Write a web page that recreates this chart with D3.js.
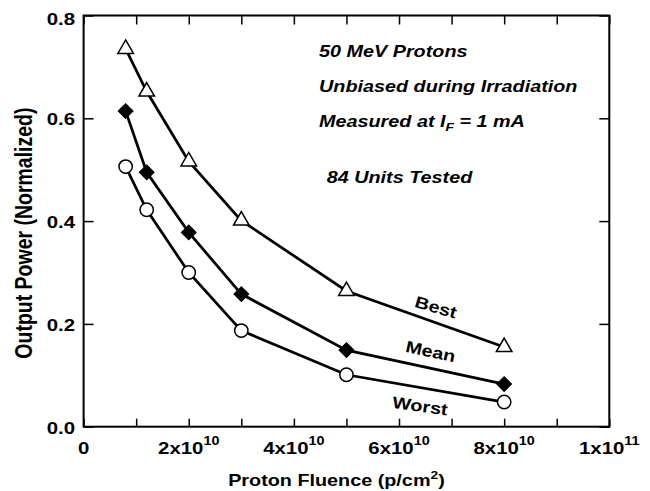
<!DOCTYPE html>
<html>
<head>
<meta charset="utf-8">
<script src="https://cdn.jsdelivr.net/npm/d3@7"></script>
<style>
  body { margin: 0; background: #fff; }
  svg { display: block; }
  text { font-family: "Liberation Sans", Arial, sans-serif; font-weight: bold; fill: #000; }
</style>
</head>
<body>
<svg id="chart" width="650" height="491"></svg>
<script>
// ---- data ----
const fluence = [0.8e10, 1.2e10, 2e10, 3e10, 5e10, 8e10];
const best    = [0.735, 0.652, 0.516, 0.401, 0.264, 0.155];
const mean    = [0.614, 0.495, 0.378, 0.258, 0.149, 0.083];
const worst   = [0.506, 0.422, 0.300, 0.187, 0.101, 0.048];
const seriesNames = ["Best", "Mean", "Worst"];
const yTickValues = [0, 0.2, 0.4, 0.6, 0.8];
const xMinorTicks = [0, 1e10, 2e10, 3e10, 4e10, 5e10, 6e10, 7e10, 8e10, 9e10, 1e11];
const xLabelValues = [0, 2e10, 4e10, 6e10, 8e10, 1e11];
const xLabelMantissa = ["0", "2x10", "4x10", "6x10", "8x10", "1x10"];
const xLabelExponent = ["", "10", "10", "10", "10", "11"];
const notes = ["50 MeV Protons", "Unbiased during Irradiation", "Measured at I|F| = 1 mA", "84 Units Tested"];

// ---- layout ----
const svg = d3.select("#chart");
const L = 83.6, R = 609.3, T = 15.5, B = 426.7;
const SX = 1.2; // horizontal stretch of the original typography
const x = d3.scaleLinear().domain([0, 1e11]).range([L, R]);
const y = d3.scaleLinear().domain([0, 0.8]).range([B, T]);

// axes (ticks pointing inward)
const tickStyle = g => { g.select(".domain").remove(); g.selectAll("line").attr("stroke", "#000").attr("stroke-width", 1.5); g.selectAll("text").remove(); };
svg.append("g").attr("transform", `translate(0,${B})`)
  .call(d3.axisBottom(x).tickValues(xMinorTicks).tickSizeInner(-8).tickSizeOuter(0)).call(tickStyle);
svg.append("g").attr("transform", `translate(0,${T})`)
  .call(d3.axisTop(x).tickValues(xMinorTicks).tickSizeInner(-9).tickSizeOuter(0)).call(tickStyle);
svg.append("g").attr("transform", `translate(${L},0)`)
  .call(d3.axisLeft(y).tickValues(yTickValues).tickSizeInner(-10).tickSizeOuter(0)).call(tickStyle);
svg.append("g").attr("transform", `translate(${R},0)`)
  .call(d3.axisRight(y).tickValues(yTickValues).tickSizeInner(-10).tickSizeOuter(0)).call(tickStyle);

// frame
svg.append("rect").attr("x", L).attr("y", T).attr("width", R - L).attr("height", B - T)
  .attr("fill", "none").attr("stroke", "#000").attr("stroke-width", 2);

// y tick labels
svg.append("g").selectAll("text").data(yTickValues).join("text")
  .attr("transform", d => `translate(${L - 8.5},${y(d) + (d === 0.8 ? 3.5 : 1)}) scale(${SX},1)`)
  .attr("text-anchor", "end").attr("dominant-baseline", "central")
  .attr("font-size", 17).text(d => d.toFixed(1));

// x tick labels with superscripts
const xl = svg.append("g").selectAll("text").data(xLabelValues).join("text")
  .attr("transform", d => `translate(${x(d)},453.5) scale(${SX},1)`)
  .attr("text-anchor", "middle").attr("font-size", 17);
xl.append("tspan").text((d, i) => xLabelMantissa[i]);
xl.append("tspan").attr("dy", -9).attr("font-size", 12).text((d, i) => xLabelExponent[i]);

// axis titles
const xt = svg.append("text").attr("transform", `translate(${(L + R) / 2 - 10},486) scale(${SX},1)`)
  .attr("text-anchor", "middle").attr("font-size", 16.5);
xt.append("tspan").text("Proton Fluence (p/cm");
xt.append("tspan").attr("dy", -7).attr("font-size", 11.5).text("2");
xt.append("tspan").attr("dy", 7).text(")");

svg.append("text").attr("transform", `translate(32,${(T + B) / 2 + 12}) rotate(-90) scale(1,${SX})`)
  .attr("text-anchor", "middle").attr("font-size", 19.5).text("Output Power (Normalized)");

// series lines and markers
const seriesData = [best, mean, worst].map((vals, k) => ({ name: seriesNames[k], pts: fluence.map((f, i) => [f, vals[i]]) }));
const line = d3.line().x(d => x(d[0])).y(d => y(d[1]));
svg.append("g").selectAll("path").data(seriesData).join("path")
  .attr("d", d => line(d.pts)).attr("fill", "none").attr("stroke", "#000").attr("stroke-width", 2.75);

const tri = d3.symbol().type(d3.symbolTriangle).size(105)();
const dia = d3.symbol().type(d3.symbolSquare).size(110)();
const cir = d3.symbol().type(d3.symbolCircle).size(140)();

svg.append("g").selectAll("path").data(seriesData[0].pts).join("path")
  .attr("d", tri).attr("transform", d => `translate(${x(d[0])},${y(d[1])})`)
  .attr("fill", "#fff").attr("stroke", "#000").attr("stroke-width", 1.5);
svg.append("g").selectAll("path").data(seriesData[1].pts).join("path")
  .attr("d", dia).attr("transform", d => `translate(${x(d[0])},${y(d[1])}) rotate(45)`)
  .attr("fill", "#000").attr("stroke", "#000").attr("stroke-width", 1);
svg.append("g").selectAll("path").data(seriesData[2].pts).join("path")
  .attr("d", cir).attr("transform", d => `translate(${x(d[0])},${y(d[1])})`)
  .attr("fill", "#fff").attr("stroke", "#000").attr("stroke-width", 1.5);

// series labels (placed along the last segment of each line)
const labelPos = [
  { cx: x(6.7e10), cy: y(0.232), a: 16 },
  { cx: x(6.6e10), cy: y(0.146), a: 12 },
  { cx: x(6.4e10), cy: y(0.040), a: 8 }
];
svg.append("g").selectAll("text").data(seriesNames).join("text")
  .attr("transform", (d, i) => `translate(${labelPos[i].cx},${labelPos[i].cy}) rotate(${labelPos[i].a}) scale(${SX},1)`)
  .attr("text-anchor", "middle").attr("dominant-baseline", "central")
  .attr("font-size", 16.5).text(d => d);

// annotations
const noteX = [319, 319, 319, 326.7];
const noteY = [56.7, 91.7, 126.7, 183.3];
notes.forEach((s, i) => {
  const t = svg.append("text").attr("transform", `translate(${noteX[i]},${noteY[i]}) scale(${SX},1)`)
    .attr("font-size", 16.5).attr("font-style", "italic");
  const parts = s.split("|");
  if (parts.length === 3) {
    t.append("tspan").text(parts[0]);
    t.append("tspan").attr("dy", 4).attr("font-size", 11.5).text(parts[1]);
    t.append("tspan").attr("dy", -4).text(parts[2]);
  } else {
    t.text(s);
  }
});
</script>
</body>
</html>
